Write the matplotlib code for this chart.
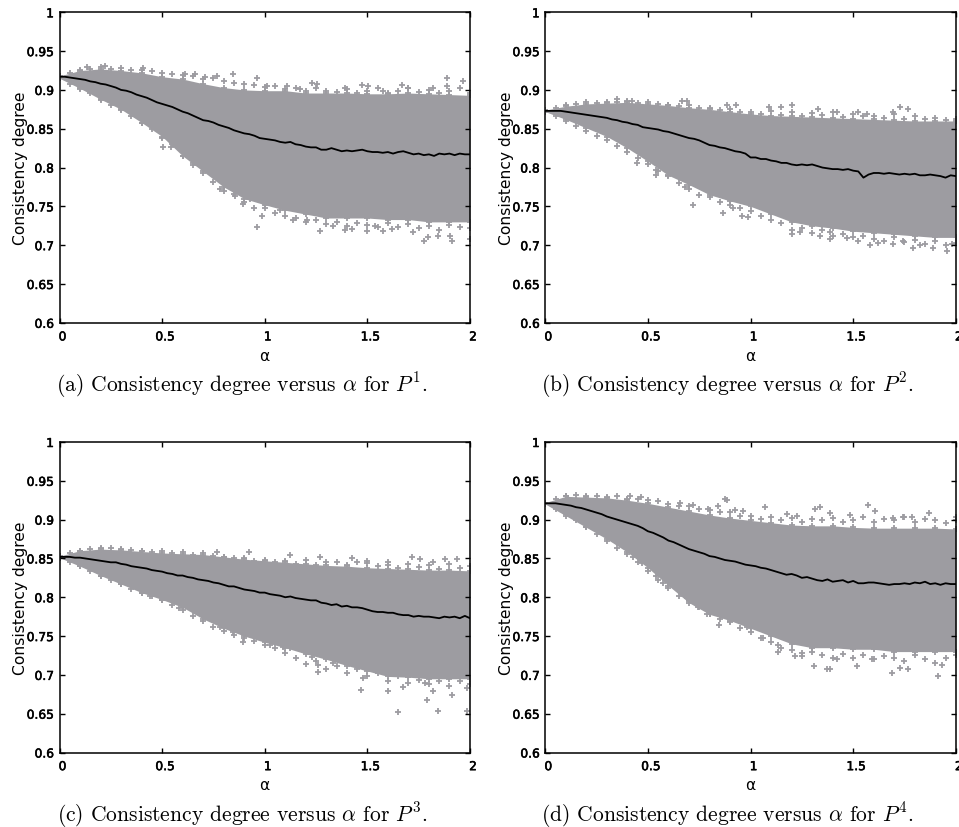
import numpy as np
import matplotlib
matplotlib.use("Agg")
import matplotlib.pyplot as plt
import matplotlib.patheffects as pe
from matplotlib.transforms import ScaledTranslation

# values
# upper_/lower_: solid cloud edges, alpha step 0.1
# fringe: loose + marks along the edges, alpha step 0.05
# mean: black line, alpha step 0.025
upper_a = [.918, .925, .927, .925, .922, .917, .914, .908, .903, .900, .899, .899, .896, .896, .896, .895, .895, .896, .895, .894, .893]
lower_a = [.915, .902, .888, .875, .858, .840, .815, .795, .775, .760, .752, .745, .740, .735, .735, .735, .733, .733, .730, .730, .730]
fringe_up_a = [.918, .922, .926, .927, .929, .927, .928, .926, .926, .925, .922, .921, .919, .918, .914, .916, .911, .909, .908, .906, .904,
               .905, .901, .903, .898, .903, .899, .897, .901, .896, .898, .903, .896, .899, .902, .897, .900, .896, .899, .902, .896]
fringe_lo_a = [.915, .908, .901, .896, .887, .881, .874, .867, .857, .850, .838, .830, .815, .803, .793, .782, .770, .766, .755, .748, .748,
               .742, .738, .735, .730, .732, .727, .730, .725, .728, .726, .723, .729, .724, .727, .722, .725, .720, .726, .723, .722]
mean_a = [.917, .917, .916, .915, .914, .913, .911, .910, .908, .907, .905, .903, .900, .899, .897, .894, .892, .890, .887, .884,
          .882, .880, .878, .875, .872, .870, .867, .864, .861, .860, .858, .855, .853, .851, .848, .846, .844, .843, .841, .838,
          .837, .836, .835, .833, .832, .833, .830, .829, .827, .826, .826, .823, .823, .825, .823, .821, .822, .821, .822, .823,
          .821, .820, .820, .819, .820, .818, .820, .821, .819, .817, .818, .816, .817, .815, .818, .817, .818, .816, .818, .817, .817]
stray_a = [(.847, .92), (.961, .915), (1.886, .915), (1.886, .905), (1.964, .911), (.964, .723), (.985, .738), (.994, .754),
           (.855, .763), (.896, .753), (.93, .76), (.782, .773), (.649, .806), (.503, .826), (.542, .826), (.604, .82),
           (1.27, .718), (1.391, .719), (1.424, .721), (1.497, .718), (1.578, .718), (1.619, .721), (1.724, .717), (1.776, .706),
           (1.797, .71), (1.846, .712), (1.911, .706), (1.903, .712), (2.0, .708), (1.334, .725), (1.14, .732), (1.204, .732),
           (1.075, .745), (1.537, .725), (.133, .929), (.222, .931), (.409, .928), (.612, .921), (.766, .918), (.66, .92),
           (.709, .917), (1.107, .905), (1.229, .909), (1.253, .908), (1.391, .903), (1.472, .906), (1.505, .905), (1.667, .906),
           (1.7, .903), (1.821, .902), (1.01, .905), (1.172, .901), (1.578, .899)]

upper_b = [.874, .879, .882, .883, .884, .882, .880, .877, .875, .872, .869, .867, .866, .865, .864, .863, .862, .861, .860, .860, .860]
lower_b = [.872, .862, .851, .840, .825, .808, .790, .778, .765, .757, .750, .740, .730, .725, .722, .718, .716, .714, .712, .710, .710]
fringe_up_b = [.874, .877, .880, .882, .884, .883, .885, .884, .886, .883, .884, .882, .881, .879, .880, .877, .877, .874, .875, .872, .871,
               .869, .873, .868, .872, .866, .870, .868, .871, .865, .869, .867, .866, .864, .869, .863, .866, .862, .864, .861, .863]
fringe_lo_b = [.872, .867, .860, .853, .847, .841, .835, .828, .820, .812, .804, .796, .789, .780, .772, .765, .762, .755, .752, .748, .744,
               .738, .733, .728, .720, .722, .716, .719, .712, .714, .710, .712, .708, .705, .710, .704, .707, .702, .705, .700, .703]
mean_b = [.873, .873, .873, .873, .872, .871, .870, .869, .868, .867, .866, .865, .864, .862, .861, .859, .858, .856, .855, .852,
          .851, .850, .849, .847, .846, .844, .842, .840, .838, .837, .835, .832, .829, .828, .826, .825, .823, .821, .820, .818,
          .813, .813, .811, .811, .809, .808, .806, .806, .804, .803, .804, .803, .804, .802, .800, .799, .798, .798, .797, .798,
          .796, .795, .787, .791, .793, .793, .792, .793, .792, .791, .792, .791, .792, .790, .790, .791, .790, .789, .787, .790, .789]
stray_b = [(.351, .888), (.421, .886), (.664, .886), (.689, .886), (.887, .881), (.929, .881), (1.092, .878), (1.149, .878),
           (1.2, .881), (1.33, .875), (1.42, .871), (1.525, .872), (1.729, .878), (1.769, .876), (1.696, .871), (1.566, .869),
           (.538, .79), (.538, .797), (.448, .806), (.721, .752), (.868, .741), (.957, .738), (.989, .736), (.916, .748),
           (.681, .775), (1.204, .714), (1.241, .717), (1.339, .712), (1.387, .708), (1.469, .709), (1.525, .705), (1.582, .7),
           (1.623, .703), (1.696, .702), (1.745, .705), (1.793, .697), (1.826, .7), (1.888, .696), (1.956, .693), (1.98, .702),
           (1.387, .717)]

upper_c = [.853, .860, .862, .861, .859, .857, .856, .855, .852, .849, .847, .845, .843, .841, .840, .838, .837, .836, .835, .835, .834]
lower_c = [.851, .840, .828, .817, .806, .797, .787, .772, .760, .750, .742, .735, .727, .720, .712, .705, .698, .697, .695, .695, .695]
fringe_up_c = [.853, .857, .860, .862, .864, .863, .862, .861, .860, .858, .859, .857, .858, .855, .857, .853, .852, .851, .850, .847, .848,
               .846, .847, .843, .848, .842, .846, .845, .841, .845, .844, .840, .842, .838, .843, .839, .842, .837, .843, .838, .840]
fringe_lo_c = [.851, .846, .840, .834, .828, .822, .817, .811, .805, .801, .797, .790, .784, .776, .770, .762, .756, .752, .748, .743, .738,
               .734, .728, .722, .714, .718, .708, .712, .703, .707, .698, .702, .692, .698, .690, .694, .688, .692, .686, .692, .688]
mean_c = [.852, .852, .852, .851, .851, .850, .849, .848, .847, .846, .845, .845, .843, .842, .840, .839, .838, .837, .835, .834,
          .833, .831, .830, .828, .828, .826, .825, .823, .822, .821, .819, .818, .816, .814, .814, .812, .810, .809, .808, .806,
          .806, .804, .803, .802, .800, .801, .799, .798, .797, .796, .796, .793, .792, .790, .791, .788, .789, .787, .787, .786,
          .784, .782, .781, .781, .780, .780, .778, .777, .777, .775, .776, .775, .775, .774, .773, .775, .774, .775, .773, .776, .773]
stray_c = [(.925, .858), (1.123, .855), (1.716, .852), (1.497, .847), (1.27, .852), (1.424, .85), (1.602, .845), (1.756, .849),
           (1.878, .849), (1.935, .849), (1.821, .845), (.766, .858), (1.648, .652), (1.846, .653), (1.984, .654), (1.792, .667),
           (1.469, .681), (1.6, .679), (1.261, .704), (1.261, .713), (.896, .742), (.58, .786), (.847, .755), (.782, .762),
           (.442, .801), (1.026, .738), (1.09, .736), (1.123, .735), (1.229, .723), (1.334, .715), (1.48, .696), (1.821, .679),
           (1.911, .674), (1.984, .683), (1.675, .685), (1.78, .69)]

upper_d = [.922, .930, .929, .928, .925, .921, .916, .911, .906, .902, .899, .896, .893, .892, .892, .890, .889, .889, .889, .889, .888]
lower_d = [.920, .905, .890, .875, .858, .838, .815, .793, .778, .770, .760, .750, .740, .735, .735, .733, .733, .730, .730, .730, .730]
fringe_up_d = [.922, .927, .931, .932, .931, .930, .929, .930, .927, .926, .925, .924, .920, .918, .917, .914, .912, .910, .910, .905, .905,
               .901, .904, .899, .902, .897, .901, .899, .902, .897, .900, .903, .897, .901, .899, .903, .897, .901, .900, .896, .900]
fringe_lo_d = [.920, .914, .907, .900, .891, .882, .872, .864, .856, .846, .834, .822, .812, .802, .795, .787, .778, .772, .768, .760, .755,
               .748, .742, .735, .732, .728, .730, .725, .722, .727, .722, .726, .720, .724, .722, .718, .726, .720, .715, .722, .725]
mean_d = [.921, .921, .921, .920, .919, .918, .916, .915, .913, .911, .909, .907, .904, .902, .900, .898, .896, .894, .892, .889,
          .885, .883, .880, .877, .873, .871, .868, .865, .862, .860, .858, .856, .853, .852, .850, .848, .847, .846, .844, .842,
          .841, .840, .838, .837, .835, .833, .831, .829, .830, .828, .825, .826, .824, .822, .821, .823, .820, .821, .822, .819,
          .821, .818, .818, .819, .819, .818, .817, .816, .817, .817, .818, .817, .819, .818, .820, .817, .818, .816, .818, .817, .817]
stray_d = [(.884, .925), (.876, .927), (1.071, .916), (.413, .93), (.465, .929), (.656, .922), (.721, .919), (.843, .917),
           (.795, .914), (.924, .913), (.965, .911), (1.574, .919), (1.606, .911), (1.339, .916), (1.314, .914), (1.387, .909),
           (1.485, .906), (1.225, .905), (1.176, .907), (1.867, .909), (1.696, .902), (1.745, .904), (2.0, .904), (1.785, .903),
           (.846, .764), (1.062, .747), (1.136, .738), (1.136, .73), (1.217, .724), (1.311, .712), (1.371, .707), (1.387, .707),
           (1.42, .72), (1.517, .711), (1.691, .703), (1.729, .709), (1.769, .707), (1.915, .699), (1.931, .713), (1.59, .72),
           (1.249, .724), (.746, .788), (.689, .799), (.572, .819), (.538, .827), (.47, .844), (.426, .852), (.981, .762), (.786, .778)]

captions = ["(a) Consistency degree versus $\\alpha$ for $P^1$.",
            "(b) Consistency degree versus $\\alpha$ for $P^2$.",
            "(c) Consistency degree versus $\\alpha$ for $P^3$.",
            "(d) Consistency degree versus $\\alpha$ for $P^4$."]
x_ticks = [0, 0.5, 1, 1.5, 2]
x_labels = ["0", "0.5", "1", "1.5", "2"]
y_ticks = [0.6, 0.65, 0.7, 0.75, 0.8, 0.85, 0.9, 0.95, 1]
y_labels = ["0.6", "0.65", "0.7", "0.75", "0.8", "0.85", "0.9", "0.95", "1"]

plt.rcParams["mathtext.fontset"] = "cm"
W, H = 959, 828
GREY = "#9d9ca1"
PLUS = dict(marker="+", s=22, color=GREY, linewidths=1.3)

fig = plt.figure(figsize=(W / 100, H / 100), dpi=100)
boxes = [(59.5, 13.3), (545.3, 13.3), (59.5, 443), (545.3, 443)]
panels = [(upper_a, lower_a, fringe_up_a, fringe_lo_a, mean_a, stray_a),
          (upper_b, lower_b, fringe_up_b, fringe_lo_b, mean_b, stray_b),
          (upper_c, lower_c, fringe_up_c, fringe_lo_c, mean_c, stray_c),
          (upper_d, lower_d, fringe_up_d, fringe_lo_d, mean_d, stray_d)]
bold = [pe.withStroke(linewidth=0.4, foreground="black")]

for i in range(4):
    upper, lower, fringe_up, fringe_lo, mean, stray = panels[i]
    left, top = boxes[i]
    ax = fig.add_axes([left / W, 1 - (top + 310.5) / H, 410.5 / W, 310.5 / H])

    xe = np.linspace(0, 2, len(upper))
    xf = np.linspace(0, 2, len(fringe_up))
    xm = np.linspace(0, 2, len(mean))
    ax.fill_between(xe, lower, upper, color=GREY, lw=0)
    ax.scatter(xe, upper, **PLUS)
    ax.scatter(xe, lower, **PLUS)
    ax.scatter(xf, fringe_up, **PLUS)
    ax.scatter(xf, fringe_lo, **PLUS)
    ax.scatter([p[0] for p in stray], [p[1] for p in stray], **PLUS)
    ax.plot(xm, mean, color="black", lw=1.3)

    ax.set_xlim(0, 2)
    ax.set_ylim(0.6, 1)
    ax.set_xticks(x_ticks)
    ax.set_xticklabels(x_labels)
    ax.set_yticks(y_ticks)
    ax.set_yticklabels(y_labels)
    ax.tick_params(direction="in", top=True, right=True, length=3.5, width=1, labelsize=8.8, pad=4)
    ax.tick_params(axis="x", pad=5.5)
    nudge = ScaledTranslation(3 / 100, 0, fig.dpi_scale_trans)
    for lab in ax.get_xticklabels():
        lab.set_transform(lab.get_transform() + nudge)
        lab.set_path_effects(bold)
    for lab in ax.get_yticklabels():
        lab.set_path_effects(bold)
    for s in ax.spines.values():
        s.set_linewidth(1.1)
    ax.set_xlabel("α", fontsize=11.2, labelpad=3)
    ax.set_ylabel("Consistency degree", fontsize=11.2, labelpad=-1)
    ax.text(0.444, -0.197, captions[i], transform=ax.transAxes, ha="center", va="center",
            fontsize=15.5, family="cmr10")

fig.savefig("out.png", dpi=100)
